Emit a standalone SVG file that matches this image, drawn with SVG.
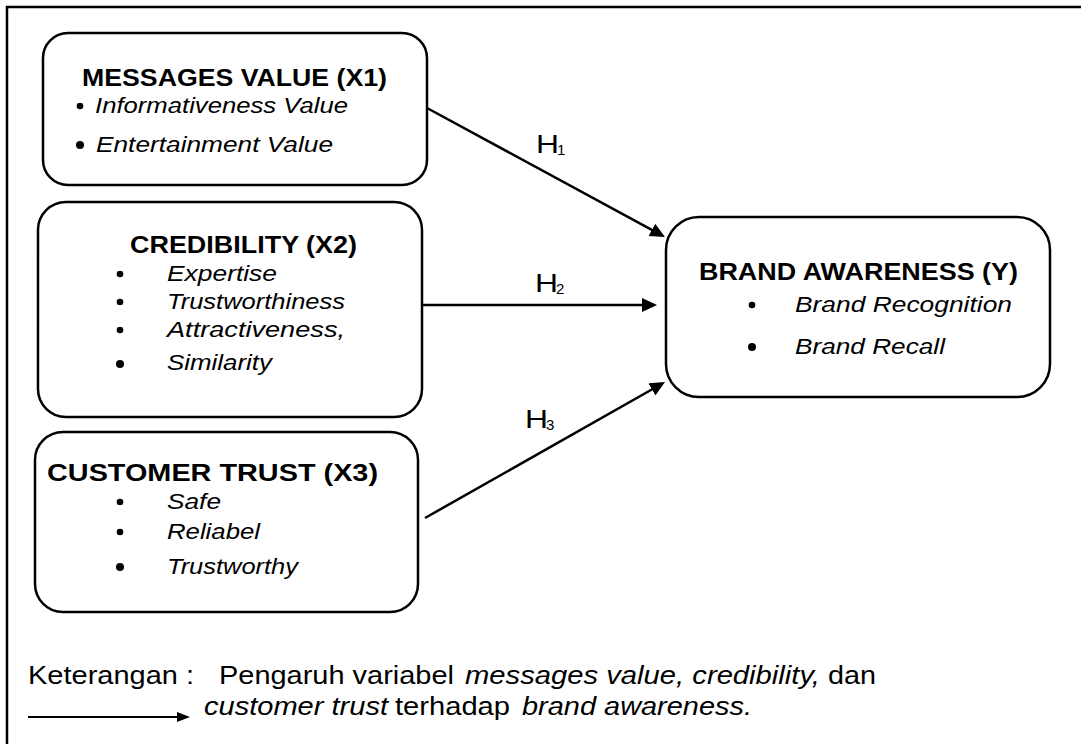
<svg xmlns="http://www.w3.org/2000/svg" width="1081" height="744" viewBox="0 0 1081 744">
  <style>
    text { font-family: "Liberation Sans", Arial, Helvetica, sans-serif; fill: #000; }
    .box { fill: #fff; stroke: #000; stroke-width: 2.5; }
    .title { font-weight: bold; font-size: 23px; }
    .item { font-style: italic; font-size: 22.5px; }
    .dot { fill: #000; }
    .conn { stroke: #000; stroke-width: 2.5; fill: none; marker-end: url(#arrow); }
    .hyp { font-size: 25px; }
    .sub { font-size: 15px; }
    .legend { font-size: 26px; }
    .it { font-style: italic; }
  </style>
  <defs>
    <marker id="arrow" markerUnits="userSpaceOnUse" markerWidth="15" markerHeight="14" refX="12" refY="7" orient="auto">
      <path d="M0,0 L15,7 L0,14 z" fill="#000"/>
    </marker>
    <marker id="arrow-small" markerUnits="userSpaceOnUse" markerWidth="13" markerHeight="10" refX="10" refY="5" orient="auto">
      <path d="M0,0 L13,5 L0,10 z" fill="#000"/>
    </marker>
  </defs>

  <rect width="1081" height="744" fill="#fff"/>

  <!-- outer frame (open at right and bottom) -->
  <path d="M7,744 V7 H1081" fill="none" stroke="#000" stroke-width="2.5"/>

  <!-- connectors -->
  <g id="connectors">
    <line class="conn" x1="427" y1="108" x2="662.4" y2="235.6"/>
    <line class="conn" x1="422" y1="305" x2="654" y2="305"/>
    <line class="conn" x1="425" y1="518" x2="662.4" y2="383.5"/>
    <text class="hyp" x="536" y="153" textLength="23" lengthAdjust="spacingAndGlyphs">H</text>
    <text class="sub" x="557" y="155">1</text>
    <text class="hyp" x="535" y="292" textLength="23" lengthAdjust="spacingAndGlyphs">H</text>
    <text class="sub" x="556" y="294">2</text>
    <text class="hyp" x="525" y="428" textLength="23" lengthAdjust="spacingAndGlyphs">H</text>
    <text class="sub" x="546" y="430">3</text>
  </g>

  <!-- X1 -->
  <g id="messages-value">
    <rect class="box" x="43" y="33" width="384" height="152" rx="25"/>
    <text class="title" x="82" y="86" textLength="305" lengthAdjust="spacingAndGlyphs">MESSAGES VALUE (X1)</text>
    <circle class="dot" cx="80" cy="106" r="3.3"/>
    <text class="item" x="95" y="113" textLength="253" lengthAdjust="spacingAndGlyphs">Informativeness Value</text>
    <circle class="dot" cx="80" cy="145" r="4"/>
    <text class="item" x="96" y="152" textLength="237" lengthAdjust="spacingAndGlyphs">Entertainment Value</text>
  </g>

  <!-- X2 -->
  <g id="credibility">
    <rect class="box" x="38" y="202" width="384" height="215" rx="28"/>
    <text class="title" x="130" y="253" textLength="227" lengthAdjust="spacingAndGlyphs">CREDIBILITY (X2)</text>
    <circle class="dot" cx="120" cy="274" r="3.3"/>
    <text class="item" x="167" y="281" textLength="110" lengthAdjust="spacingAndGlyphs">Expertise</text>
    <circle class="dot" cx="120" cy="302" r="3.3"/>
    <text class="item" x="167" y="309" textLength="178" lengthAdjust="spacingAndGlyphs">Trustworthiness</text>
    <circle class="dot" cx="120" cy="330" r="3.3"/>
    <text class="item" x="167" y="337" textLength="178" lengthAdjust="spacingAndGlyphs">Attractiveness,</text>
    <circle class="dot" cx="120" cy="364" r="4"/>
    <text class="item" x="167" y="370" textLength="105" lengthAdjust="spacingAndGlyphs">Similarity</text>
  </g>

  <!-- X3 -->
  <g id="customer-trust">
    <rect class="box" x="35" y="432" width="383" height="180" rx="28"/>
    <text class="title" x="47" y="481" textLength="331" lengthAdjust="spacingAndGlyphs">CUSTOMER TRUST (X3)</text>
    <circle class="dot" cx="120" cy="502" r="3.3"/>
    <text class="item" x="167" y="509" textLength="54" lengthAdjust="spacingAndGlyphs">Safe</text>
    <circle class="dot" cx="120" cy="532" r="3.3"/>
    <text class="item" x="167" y="539" textLength="93" lengthAdjust="spacingAndGlyphs">Reliabel</text>
    <circle class="dot" cx="120" cy="567" r="4"/>
    <text class="item" x="167" y="574" textLength="131" lengthAdjust="spacingAndGlyphs">Trustworthy</text>
  </g>

  <!-- Y -->
  <g id="brand-awareness">
    <rect class="box" x="666" y="217" width="384" height="180" rx="33"/>
    <text class="title" x="699" y="280" textLength="319" lengthAdjust="spacingAndGlyphs">BRAND AWARENESS (Y)</text>
    <circle class="dot" cx="752" cy="305" r="3.3"/>
    <text class="item" x="795" y="312" textLength="217" lengthAdjust="spacingAndGlyphs">Brand Recognition</text>
    <circle class="dot" cx="752" cy="347" r="4"/>
    <text class="item" x="795" y="354" textLength="150" lengthAdjust="spacingAndGlyphs">Brand Recall</text>
  </g>

  <!-- legend -->
  <g id="legend">
    <text class="legend" x="28" y="684" textLength="166" lengthAdjust="spacingAndGlyphs">Keterangan :</text>
    <text class="legend" x="219" y="684" textLength="235" lengthAdjust="spacingAndGlyphs">Pengaruh variabel</text>
    <text class="legend it" x="465" y="684" textLength="355" lengthAdjust="spacingAndGlyphs">messages value, credibility,</text>
    <text class="legend" x="828" y="684" textLength="48" lengthAdjust="spacingAndGlyphs">dan</text>
    <line x1="28" y1="717" x2="187" y2="717" stroke="#000" stroke-width="2" marker-end="url(#arrow-small)"/>
    <text class="legend it" x="204" y="715" textLength="184" lengthAdjust="spacingAndGlyphs">customer trust</text>
    <text class="legend" x="395" y="715" textLength="115" lengthAdjust="spacingAndGlyphs">terhadap</text>
    <text class="legend it" x="522" y="715" textLength="230" lengthAdjust="spacingAndGlyphs">brand awareness.</text>
  </g>
</svg>
